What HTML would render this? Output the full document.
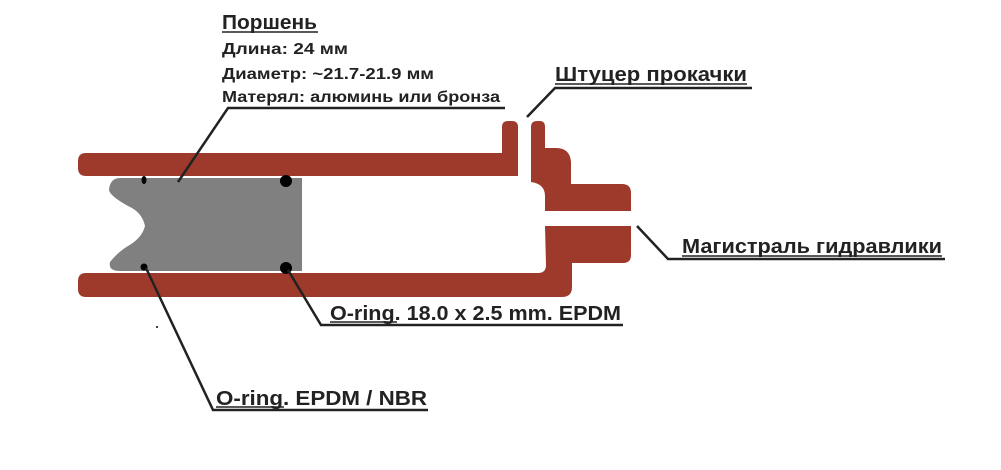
<!DOCTYPE html>
<html><head><meta charset="utf-8"><style>
html,body{margin:0;padding:0;background:#fff;}
svg{display:block}
text{font-family:"Liberation Sans",Arial,sans-serif;font-weight:bold;fill:#222;}
</style></head><body>
<svg width="1001" height="470" viewBox="0 0 1001 470" xmlns="http://www.w3.org/2000/svg">
<g fill="#9e3a2c">
  <path d="M86 153 H502 V127 Q502 121 508 121 H512 Q518 121 518 127 V176 H86 Q78 176 78 168 V161 Q78 153 86 153 Z"/>
  <path d="M531 127 Q531 121 537 121 H540 Q545 121 545 127 V148 H556 Q570 148 571 162 V184 H622 Q631 184 631 193 V211 H545 V196 Q545 184 531 182 Z"/>
  <path d="M545 226 H631 V255 Q631 263 623 263 H572 V287 Q572 297 562 297 H86 Q78 297 78 289 V281 Q78 273 86 273 H538 Q546 273 546 265 Z"/>
</g>
<path fill="#808080" d="M120 178 H302 V271 H120 Q108 271 110 262 Q118 252 128 246 Q142 238 145 226 Q142 212 128 206 Q110 196 109 190 Q110 178 120 178 Z"/>
<g fill="#000">
  <ellipse cx="144" cy="180" rx="2.5" ry="4"/>
  <circle cx="144" cy="267" r="3.5"/>
  <circle cx="286" cy="181" r="6"/>
  <circle cx="286" cy="268" r="6"/>
  <circle cx="157" cy="327" r="1"/>
</g>
<g stroke="#222" stroke-width="2.5" fill="none">
  <polyline points="178,182 228,108 505,108"/>
  <polyline points="527,117 555,88 752,88"/>
  <polyline points="637,226 668,259 945,259"/>
  <polyline points="288,270 321,325 623,325"/>
  <polyline points="146,268 213,410 428,410"/>
</g>
<text x="222" y="29" font-size="20" textLength="95" lengthAdjust="spacingAndGlyphs">Поршень</text>
<line x1="222" y1="32" x2="318" y2="32" stroke="#222" stroke-width="1.5"/>
<text x="222" y="54" font-size="15.5" textLength="126" lengthAdjust="spacingAndGlyphs">Длина: 24 мм</text>
<text x="222" y="79" font-size="15.5" textLength="212" lengthAdjust="spacingAndGlyphs">Диаметр: ~21.7-21.9 мм</text>
<text x="222" y="102" font-size="15.5" textLength="278" lengthAdjust="spacingAndGlyphs">Матерял: алюминь или бронза</text>
<text x="555" y="81" font-size="20" textLength="192" lengthAdjust="spacingAndGlyphs">Штуцер прокачки</text>
<line x1="555" y1="84" x2="747" y2="84" stroke="#222" stroke-width="1.5"/>
<text x="682" y="253" font-size="20" textLength="260" lengthAdjust="spacingAndGlyphs">Магистраль гидравлики</text>
<line x1="682" y1="256" x2="942" y2="256" stroke="#222" stroke-width="1.5"/>
<text x="330" y="320" font-size="20" textLength="291" lengthAdjust="spacingAndGlyphs">O-ring. 18.0 x 2.5 mm. EPDM</text>
<line x1="330" y1="322" x2="397" y2="322" stroke="#222" stroke-width="1.5"/>
<text x="216" y="405" font-size="20" textLength="211" lengthAdjust="spacingAndGlyphs">O-ring. EPDM / NBR</text>
<line x1="216" y1="407" x2="284" y2="407" stroke="#222" stroke-width="1.5"/>
</svg>
</body></html>
